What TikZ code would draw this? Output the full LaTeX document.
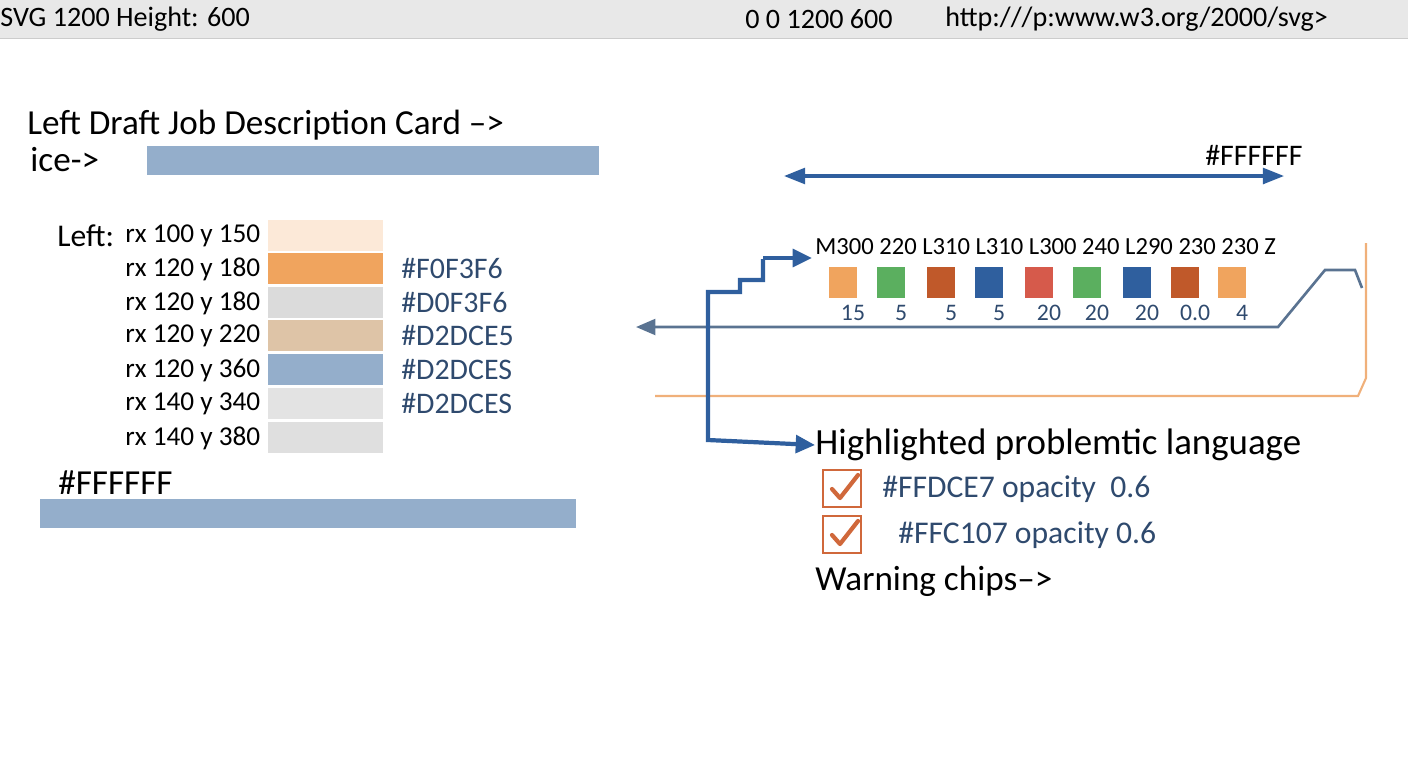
\documentclass[tikz,border=0pt]{standalone}
\usepackage{fontspec}
\setmainfont{Carlito}
\usetikzlibrary{arrows.meta}
\definecolor{barblue}{HTML}{94AECB}
\definecolor{linkblue}{HTML}{2F5F9E}
\definecolor{slate}{HTML}{5A7391}
\definecolor{peach}{HTML}{FCE9D8}
\definecolor{tan}{HTML}{F0A45E}
\definecolor{sand}{HTML}{DEC4A7}
\definecolor{chipgreen}{HTML}{5BAF5F}
\definecolor{rust}{HTML}{C0592A}
\definecolor{brick}{HTML}{D65A4B}
\definecolor{navy}{HTML}{2F4A6E}
\definecolor{checkred}{HTML}{D0683B}
\definecolor{lineorange}{HTML}{F0B07A}
\tikzset{
  lbl/.style={anchor=west,inner sep=0pt,font=\fontsize{17}{20}\selectfont},
  big/.style={anchor=west,inner sep=0pt,font=\fontsize{20}{24}\selectfont},
  hexlbl/.style={lbl,text=navy},
  swatch/.style={draw=white,line width=0.6pt},
  chip/.style={minimum width=0.56cm,minimum height=0.62cm,inner sep=0pt}
}
\begin{document}
\begin{tikzpicture}[x=0.02cm,y=-0.02cm]
\useasboundingbox (0,0) rectangle (1408,768);

% header strip
\fill[gray!18] (0,0) rectangle (1408,38);
\draw[gray!40] (0,38) -- (1408,38);
\node[lbl,font=\fontsize{16}{19}\selectfont] (svgw) at (0,19) {SVG 1200 Height: 600};
\node[lbl,font=\fontsize{16}{19}\selectfont] (vbox) at (745,19) {0 0 1200 600};
\node[lbl,font=\fontsize{16}{19}\selectfont] (xmlns) at (945,19) {http:///p:www.w3.org/2000/svg>};

% left card
\node[big] (title) at (27,125) {Left Draft Job Description Card –>};
\node[big] (ice) at (30,160) {ice->};
\fill[barblue] (147,146) rectangle (599,175);

\node[big,font=\fontsize{18}{21}\selectfont] (left) at (57,236) {Left:};
\foreach \y/\txt/\col/\hex [count=\i] in {
    236/rx 100 y 150/peach/,
    269/rx 120 y 180/tan/\#F0F3F6,
    303/rx 120 y 180/gray!28/\#D0F3F6,
    336/rx 120 y 220/sand/\#D2DCE5,
    370/rx 120 y 360/barblue/\#D2DCES,
    404/rx 140 y 340/gray!22/\#D2DCES,
    438/rx 140 y 380/gray!25/} {
  \node[lbl,font=\fontsize{15.5}{18}\selectfont] (row\i) at (125,\y) {\txt};
  \filldraw[swatch,fill=\col] (267,\y-17) rectangle (384,\y+16);
  \node[hexlbl] (hex\i) at (401,\y) {\hex};
}

\node[big] (white) at (58,483) {\#FFFFFF};
\fill[barblue] (40,499) rectangle (576,528);

% right panel
\draw[linkblue,line width=1.8pt,{Triangle[width=9pt,length=12pt]}-{Triangle[width=9pt,length=12pt]}] (784,176) -- (1284,176);
\node[lbl] (white2) at (1205,155) {\#FFFFFF};

\node[lbl,font=\fontsize{14}{17}\selectfont] (path) at (815,247) {M300 220 L310 L310 L300 240 L290 230 230 Z};
\foreach \x/\col/\n [count=\i] in {
    843/tan/15, 891/chipgreen/5, 941/rust/5, 989/linkblue/5, 1039/brick/20,
    1087/chipgreen/20, 1137/linkblue/20, 1185/rust/0.0, 1232/tan/4} {
  \node[chip,fill=\col] (chip\i) at (\x,282) {};
  \node[hexlbl,anchor=center,font=\fontsize{13.5}{16}\selectfont] (num\i) at (\x+10,313) {\n};
}

\draw[slate,line width=1.5pt,-{Triangle[width=9pt,length=11pt]}] (1362,288) -- (1355,270) -- (1325,270) -- (1278,327) -- (636,327);
\draw[lineorange,line width=1.2pt] (1366,243) -- (1366,378) -- (1358,396) -- (655,396);

\node[big,font=\fontsize{21}{25}\selectfont] (hl) at (815,445) {Highlighted problemtic language};
\draw[linkblue,line width=2.4pt,-{Triangle[width=10pt,length=11pt]}] (763,258) -- (812,258);
\draw[linkblue,line width=2.4pt,-{Triangle[width=10pt,length=11pt]}] (763,259) -- (763,280) -- (740,280) -- (740,292) -- (708,292) -- (708,440) -- (hl.west);

\foreach \y/\txt/\dx [count=\i] in {489/\#FFDCE7 opacity\ \ 0.6/882, 535/\#FFC107 opacity 0.6/898} {
  \draw[checkred,line width=1pt] (823,\y-19) rectangle (861,\y+18);
  \draw[checkred,line width=2.4pt,line cap=round,line join=round] (832,\y) -- (840,\y+9) -- (858,\y-14);
  \node[hexlbl,font=\fontsize{18}{21}\selectfont] (warn\i) at (\dx,\y) {\txt};
}
\node[big] (chips) at (815,581) {Warning chips–>};
\end{tikzpicture}
\end{document}
